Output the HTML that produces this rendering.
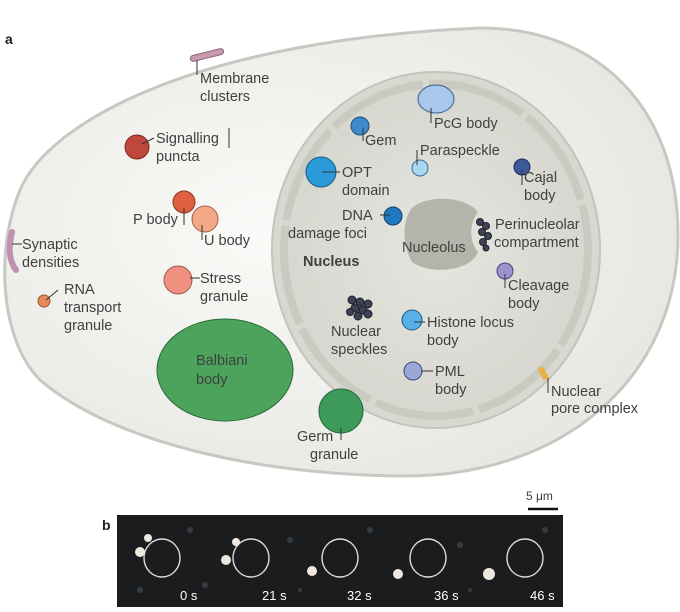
<!DOCTYPE html>
<html><head><meta charset="utf-8"><style>
body{margin:0;background:#fff;width:680px;height:607px;overflow:hidden}
svg text{font-family:"Liberation Sans",sans-serif;font-size:14.5px;fill:#404040}
</style></head><body>
<svg width="680" height="607" viewBox="0 0 680 607">
<defs>
<radialGradient id="cell" cx="0.4" cy="0.45" r="0.6"><stop offset="0" stop-color="#fafaf8"/><stop offset="1" stop-color="#e8e8e3"/></radialGradient>
<radialGradient id="nuc" cx="0.5" cy="0.5" r="0.55"><stop offset="0" stop-color="#e6e6e0"/><stop offset="1" stop-color="#d6d6cf"/></radialGradient>
</defs>
<text x="5" y="44" style="font-weight:bold;font-size:14px;fill:#222">a</text>
<path d="M480,28 C600,28 678,110 678,235 C678,380 560,478 400,476 C250,474 110,440 40,380 C0,340 -5,250 20,190 C50,120 200,40 480,28 Z" fill="url(#cell)" stroke="#c8c8c2" stroke-width="3"/>
<!-- nucleus -->
<ellipse cx="436" cy="250" rx="164" ry="178" fill="#d8d8d1" stroke="#c4c4bc" stroke-width="2"/>
<ellipse cx="436" cy="250" rx="152" ry="166" fill="none" stroke="#cacac2" stroke-width="8" stroke-dasharray="100 6"/>
<ellipse cx="436" cy="250" rx="146" ry="160" fill="url(#nuc)"/>
<path d="M412,208 C425,195 465,195 478,212 C470,222 468,240 478,252 C470,272 430,275 412,262 C402,245 402,220 412,208Z" fill="#b4b4aa"/>
<!-- membrane items -->
<rect x="190" y="52" width="34" height="6" rx="3" fill="#c79ab0" stroke="#8a6677" transform="rotate(-14 207 55)"/>
<path d="M12,232 q-6,25 4,38" stroke="#c18fb0" stroke-width="6" fill="none" stroke-linecap="round"/>
<rect x="540" y="367" width="6" height="13" rx="2" fill="#e8b040" transform="rotate(-30 543 373)"/>
<!-- cytoplasm bodies -->
<circle cx="137" cy="147" r="12" fill="#c0473c" stroke="#7a2a24"/>
<circle cx="184" cy="202" r="11" fill="#de6040" stroke="#8c3520"/>
<circle cx="205" cy="219" r="13" fill="#f3a888" stroke="#a0604a"/>
<circle cx="178" cy="280" r="14" fill="#f09080" stroke="#a05a50"/>
<circle cx="44" cy="301" r="6" fill="#e88a60" stroke="#9a5030"/>
<ellipse cx="225" cy="370" rx="68" ry="51" fill="#4ca35c" stroke="#2c6a3a"/>
<circle cx="341" cy="411" r="22" fill="#3d9a5a" stroke="#236a3a"/>
<!-- nuclear bodies -->
<ellipse cx="436" cy="99" rx="18" ry="14" fill="#a8c8ec" stroke="#3a5e8c"/>
<circle cx="360" cy="126" r="9" fill="#3d8ac8" stroke="#204a7a"/>
<circle cx="321" cy="172" r="15" fill="#2a9ad8" stroke="#1a5a8a"/>
<circle cx="420" cy="168" r="8" fill="#a8d8f0" stroke="#3a6a9a"/>
<circle cx="522" cy="167" r="8" fill="#3d5a9a" stroke="#1a2a5a"/>
<circle cx="393" cy="216" r="9" fill="#1f78c0" stroke="#10406a"/>
<circle cx="505" cy="271" r="8" fill="#9d92cc" stroke="#4a3e7a"/>
<circle cx="412" cy="320" r="10" fill="#58b0e8" stroke="#1e5a8a"/>
<circle cx="413" cy="371" r="9" fill="#9aa8d8" stroke="#3a4a7a"/>
<g fill="#3d4258" stroke="#222">
<circle cx="480" cy="222" r="3.5"/><circle cx="486" cy="226" r="3.5"/><circle cx="482" cy="232" r="3.5"/><circle cx="488" cy="236" r="3.5"/><circle cx="483" cy="242" r="3.5"/><circle cx="486" cy="248" r="3"/>
<circle cx="352" cy="300" r="4"/><circle cx="360" cy="302" r="4"/><circle cx="368" cy="304" r="4"/><circle cx="355" cy="308" r="4"/><circle cx="363" cy="310" r="4"/><circle cx="358" cy="316" r="4"/><circle cx="368" cy="314" r="4"/><circle cx="350" cy="312" r="3.5"/>
</g>
<!-- leader lines -->
<g stroke="#333" stroke-width="1" fill="none">
<line x1="197" y1="60" x2="197" y2="75"/><line x1="142" y1="144" x2="154" y2="138"/><line x1="229" y1="128" x2="229" y2="148"/>
<line x1="184" y1="208" x2="184" y2="225"/><line x1="202" y1="225" x2="202" y2="240"/><line x1="190" y1="278" x2="200" y2="278"/>
<line x1="12" y1="244" x2="22" y2="244"/><line x1="46" y1="300" x2="58" y2="290"/><line x1="341" y1="428" x2="341" y2="440"/>
<line x1="431" y1="108" x2="431" y2="123"/><line x1="363" y1="128" x2="363" y2="141"/><line x1="417" y1="165" x2="417" y2="150"/>
<line x1="322" y1="172" x2="340" y2="172"/><line x1="522" y1="170" x2="522" y2="185"/><line x1="380" y1="215" x2="390" y2="215"/>
<line x1="505" y1="274" x2="505" y2="288"/><line x1="414" y1="322" x2="425" y2="322"/><line x1="421" y1="371" x2="433" y2="371"/>
<line x1="548" y1="378" x2="548" y2="393"/>
</g>
<text x="200" y="83">Membrane</text><text x="200" y="101">clusters</text>
<text x="156" y="143">Signalling</text><text x="156" y="161">puncta</text>
<text x="133" y="224">P body</text><text x="204" y="245">U body</text>
<text x="22" y="249">Synaptic</text><text x="22" y="267">densities</text>
<text x="200" y="283">Stress</text><text x="200" y="301">granule</text>
<text x="64" y="294">RNA</text><text x="64" y="312">transport</text><text x="64" y="330">granule</text>
<text x="196" y="365">Balbiani</text><text x="196" y="384">body</text>
<text x="297" y="441">Germ</text><text x="310" y="459">granule</text>
<text x="434" y="128">PcG body</text><text x="365" y="145">Gem</text><text x="420" y="155">Paraspeckle</text>
<text x="342" y="177">OPT</text><text x="342" y="195">domain</text>
<text x="524" y="182">Cajal</text><text x="524" y="200">body</text>
<text x="342" y="220">DNA</text><text x="288" y="238">damage foci</text>
<text x="402" y="252">Nucleolus</text><text x="495" y="229">Perinucleolar</text><text x="494" y="247">compartment</text>
<text x="303" y="266" style="font-weight:bold">Nucleus</text>
<text x="508" y="290">Cleavage</text><text x="508" y="308">body</text>
<text x="331" y="336">Nuclear</text><text x="331" y="354">speckles</text>
<text x="427" y="327">Histone locus</text><text x="427" y="345">body</text>
<text x="435" y="376">PML</text><text x="435" y="394">body</text>
<text x="551" y="396">Nuclear</text><text x="551" y="413">pore complex</text>
<!-- panel b -->
<text x="526" y="500" style="font-size:12px">5 μm</text>
<line x1="528" y1="509" x2="558" y2="509" stroke="#111" stroke-width="2.5"/>
<text x="102" y="530" style="font-weight:bold;font-size:14px;fill:#222">b</text>
<rect x="117" y="515" width="446" height="92" fill="#1a1c1e"/>
<g fill="#4a5055" opacity="0.6"><circle cx="190" cy="530" r="3"/><circle cx="205" cy="585" r="3"/><circle cx="290" cy="540" r="3"/><circle cx="300" cy="590" r="2"/><circle cx="370" cy="530" r="3"/><circle cx="460" cy="545" r="3"/><circle cx="470" cy="590" r="2"/><circle cx="545" cy="530" r="3"/><circle cx="140" cy="590" r="3"/></g>
<g fill="none" stroke="#ddd" stroke-width="1.4">
<ellipse cx="162" cy="558" rx="18" ry="19"/><ellipse cx="251" cy="558" rx="18" ry="19"/><ellipse cx="340" cy="558" rx="18" ry="19"/><ellipse cx="428" cy="558" rx="18" ry="19"/><ellipse cx="525" cy="558" rx="18" ry="19"/>
</g>
<g fill="#eee8e0"><circle cx="140" cy="552" r="5"/><circle cx="148" cy="538" r="4"/><circle cx="226" cy="560" r="5"/><circle cx="236" cy="542" r="4"/><circle cx="312" cy="571" r="5"/><circle cx="398" cy="574" r="5"/><circle cx="489" cy="574" r="6"/></g>
<g style="font-size:13px"><text x="180" y="600" style="fill:#fff;font-size:13px">0 s</text><text x="262" y="600" style="fill:#fff;font-size:13px">21 s</text><text x="347" y="600" style="fill:#fff;font-size:13px">32 s</text><text x="434" y="600" style="fill:#fff;font-size:13px">36 s</text><text x="530" y="600" style="fill:#fff;font-size:13px">46 s</text></g>
</svg>
</body></html>
